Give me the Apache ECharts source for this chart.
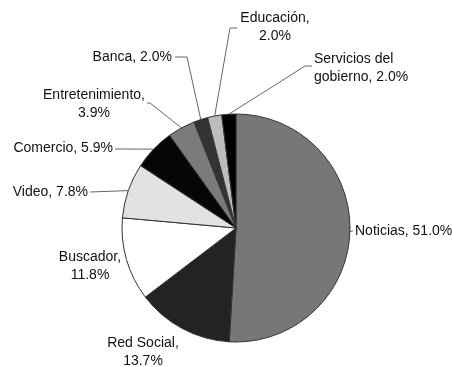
<!DOCTYPE html>
<html>
<head>
<meta charset="utf-8">
<script src="https://cdn.jsdelivr.net/npm/echarts@6/dist/echarts.min.js"></script>
<style>
  html, body { margin: 0; padding: 0; background: #fff; }
  #chart { width: 452px; height: 367px; }
</style>
</head>
<body>
<div id="chart"></div>
<script>
// datos del gráfico
const categories = ['Noticias', 'Red Social', 'Buscador', 'Video', 'Comercio',
  'Entretenimiento', 'Banca', 'Educación', 'Servicios del\ngobierno'];
const percents = [51.0, 13.7, 11.8, 7.8, 5.9, 3.9, 2.0, 2.0, 2.0];

// tonos de gris de cada sector
const sliceColors = ['#777777', '#232323', '#ffffff', '#e2e2e2', '#060606',
  '#7b7b7b', '#333333', '#bcbcbc', '#000000'];

// dónde va cada etiqueta (px) y el codo de la línea guía
const labelPos = [
  { x: 355, y: 231, align: 'left', sep: ', ', line: [[353, 231]] },
  { x: 143, y: 352, align: 'center', sep: ',\n', line: null },
  { x: 90, y: 266, align: 'center', sep: ',\n', line: null },
  { x: 88, y: 192, align: 'right', sep: ', ', line: [[90, 192]] },
  { x: 113, y: 148, align: 'right', sep: ', ', line: [[115, 149]] },
  { x: 94, y: 104, align: 'center', sep: ',\n', line: [[150, 103], [147, 103]] },
  { x: 172, y: 57, align: 'right', sep: ', ', line: [[187, 57], [175, 57]] },
  { x: 275, y: 27, align: 'center', sep: ',\n', line: [[230, 28], [237, 28]] },
  { x: 314, y: 68, align: 'left', sep: ', ', line: [[305, 66], [312, 66]] }
];

const chart = echarts.init(document.getElementById('chart'));

const option = {
  animation: false,
  series: [
    {
      type: 'pie',
      center: [236, 228],
      radius: 114,
      startAngle: 90,
      clockwise: true,
      avoidLabelOverlap: false,
      itemStyle: {
        borderColor: '#333',
        borderWidth: 1
      },
      label: {
        show: true,
        position: 'outside',
        color: '#111',
        fontFamily: 'Liberation Sans, Arial, sans-serif',
        fontSize: 14,
        lineHeight: 18,
        formatter: function (p) {
          return p.name + labelPos[p.dataIndex].sep + p.value.toFixed(1) + '%';
        }
      },
      labelLine: {
        show: true,
        lineStyle: { color: '#666', width: 1 }
      },
      labelLayout: function (params) {
        const lp = labelPos[params.dataIndex];
        const start = params.labelLinePoints ? params.labelLinePoints[0] : [lp.x, lp.y];
        let pts;
        if (lp.line) {
          pts = [start].concat(lp.line);
          if (pts.length < 3) pts.push(pts[pts.length - 1]);
        } else {
          pts = [start, start, start];
        }
        return {
          x: lp.x,
          y: lp.y,
          align: lp.align,
          verticalAlign: 'middle',
          labelLinePoints: pts
        };
      },
      data: categories.map((name, i) => ({
        name: name,
        value: percents[i],
        itemStyle: { color: sliceColors[i] }
      }))
    }
  ]
};

chart.setOption(option);
</script>
</body>
</html>
